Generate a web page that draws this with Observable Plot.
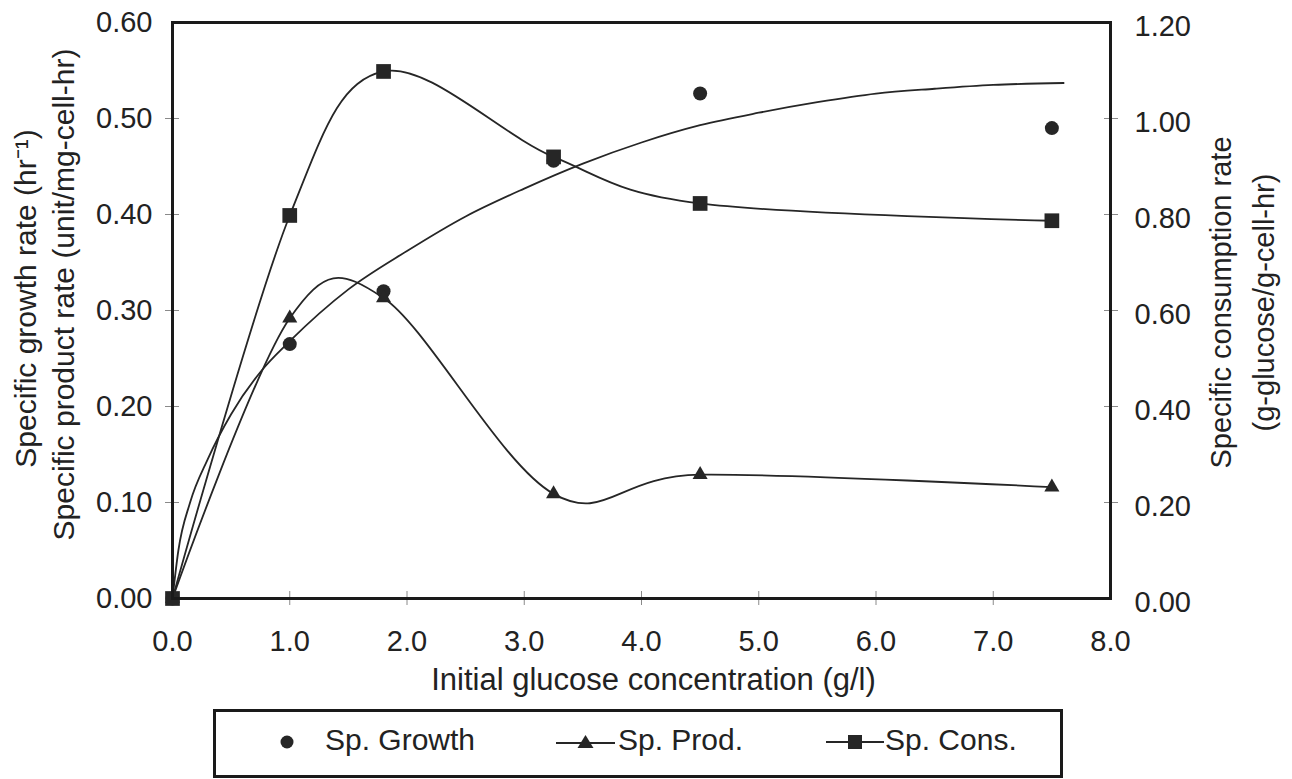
<!DOCTYPE html>
<html>
<head>
<meta charset="utf-8">
<script src="https://cdn.jsdelivr.net/npm/d3@7"></script>
<script src="https://cdn.jsdelivr.net/npm/@observablehq/plot@0.6"></script>
<style>
  html, body { margin: 0; padding: 0; background: #fff; }
  #wrap { position: relative; width: 1292px; height: 779px; overflow: hidden; font-family: "Liberation Sans", Arial, sans-serif; color: #222; }
  #chart { position: absolute; left: 0; top: 0; }
  #legend { position: absolute; left: 213px; top: 709px; width: 850px; height: 69px; border: 3px solid #1a1a1a; box-sizing: border-box; background: #fff; }
  .sw { position: absolute; top: 20px; display: block; }
  .lab { position: absolute; top: 10px; height: 36px; line-height: 36px; font-size: 30px; white-space: nowrap; }
</style>
</head>
<body>
<div id="wrap"><div id="chart"></div><div id="legend"></div></div>
<script>
// Measured data (initial glucose concentration, g/l)
const conc = [0, 1.0, 1.8, 3.25, 4.5, 7.5];
const spGrowth = [0, 0.265, 0.32, 0.456, 0.526, 0.49];      // hr^-1 (left axis)
const spProd = [0, 0.292, 0.313, 0.109, 0.129, 0.116];      // unit/mg-cell-hr (left axis)
const spCons = [0, 0.798, 1.098, 0.92, 0.823, 0.787];       // g-glucose/g-cell-hr (right axis)

// Fitted growth curve
const fitConc = [0, 0.05, 0.15, 0.3, 0.5, 0.75, 1.0, 1.5, 2.0, 2.5, 3.0, 3.5, 4.0, 4.5, 5.0, 5.5, 6.0, 6.5, 7.0, 7.6];
const fitGrowth = [0, 0.05, 0.1, 0.145, 0.192, 0.236, 0.268, 0.322, 0.362, 0.398, 0.427, 0.453, 0.475, 0.493, 0.506, 0.517, 0.526, 0.531, 0.535, 0.537];

// Axis ticks
const xTicks = [0, 1, 2, 3, 4, 5, 6, 7, 8];
const yLeftTicks = [0, 0.1, 0.2, 0.3, 0.4, 0.5, 0.6];
const yRightTicks = [0, 0.2, 0.4, 0.6, 0.8, 1.0, 1.2];

const legendLabels = ["Sp. Growth", "Sp. Prod.", "Sp. Cons."];

const ratio = 0.5; // right axis (0..1.2) mapped onto left axis (0..0.6)

const pts = conc.map((c, i) => ({c, g: spGrowth[i], p: spProd[i], s: spCons[i]}));
const fit = fitConc.map((c, i) => ({c, g: fitGrowth[i]}));

const ink = "#262626";
const tickCol = "#8a8a8a";
const fs = 29;

const chart = Plot.plot({
  width: 1292,
  height: 708,
  marginLeft: 172,
  marginRight: 182,
  marginTop: 22,
  marginBottom: 110,
  style: {fontFamily: "Liberation Sans, Arial, sans-serif", fontSize: fs + "px", color: "#222", background: "#fff"},
  x: {domain: [0, 8], label: null},
  y: {domain: [0, 0.6], label: null},
  marks: [
    // tick marks crossing the axes
    Plot.axisX({ticks: xTicks.slice(1, -1), tickSize: 14, dy: -7, tickFormat: () => "", stroke: tickCol, label: null}),
    Plot.axisY({ticks: yLeftTicks.slice(1, -1), anchor: "left", tickSize: 14, dx: 7, tickFormat: () => "", stroke: tickCol, label: null}),
    Plot.axisY({ticks: yRightTicks.slice(1, -1).map(v => v * ratio), anchor: "right", tickSize: 14, dx: -7, tickFormat: () => "", stroke: tickCol, label: null}),
    // tick labels
    Plot.axisX({ticks: xTicks, tickSize: 0, tickPadding: 32, tickFormat: d => d.toFixed(1), label: null}),
    Plot.axisY({ticks: yLeftTicks, anchor: "left", tickSize: 0, tickPadding: 20, tickFormat: d => d.toFixed(2), label: null}),
    Plot.axisY({ticks: yRightTicks.map(v => v * ratio), anchor: "right", tickSize: 0, tickPadding: 24, dy: 4, tickFormat: d => (d / ratio).toFixed(2), label: null}),
    // axis titles
    Plot.text(["Initial glucose concentration (g/l)"], {frameAnchor: "bottom", textAnchor: "middle", lineAnchor: "middle", dx: 12, dy: 82, fontSize: 31, fill: "#222"}),
    Plot.text(["Specific growth rate (hr\u207B\u00B9)"], {frameAnchor: "left", textAnchor: "middle", lineAnchor: "middle", dx: -146, dy: -12, rotate: -90, fontSize: 30, fill: "#222"}),
    Plot.text(["Specific product rate (unit/mg-cell-hr)"], {frameAnchor: "left", textAnchor: "middle", lineAnchor: "middle", dx: -108, dy: -16, rotate: -90, fontSize: 30, fill: "#222"}),
    Plot.text(["Specific consumption rate"], {frameAnchor: "right", textAnchor: "middle", lineAnchor: "middle", dx: 111, dy: -8, rotate: -90, fontSize: fs, fill: "#222"}),
    Plot.text(["(g-glucose/g-cell-hr)"], {frameAnchor: "right", textAnchor: "middle", lineAnchor: "middle", dx: 154, dy: -8, rotate: -90, fontSize: fs, fill: "#222"}),
    // curves
    Plot.line(fit, {x: "c", y: "g", curve: "monotone-x", stroke: ink, strokeWidth: 1.8}),
    Plot.line(pts, {x: "c", y: "p", curve: "cardinal", stroke: ink, strokeWidth: 1.8}),
    Plot.line(pts, {x: "c", y: d => d.s * ratio, curve: "cardinal", stroke: ink, strokeWidth: 1.8}),
    // markers
    Plot.dot(pts, {x: "c", y: "g", r: 7, fill: ink, symbol: "circle"}),
    Plot.dot(pts, {x: "c", y: "p", r: 5.6, fill: ink, symbol: "triangle"}),
    Plot.dot(pts, {x: "c", y: d => d.s * ratio, r: 8.3, fill: ink, symbol: "square"}),
    Plot.frame({stroke: "#1a1a1a", strokeWidth: 3})
  ]
});
document.getElementById("chart").appendChild(chart);

// Legend (positions relative to the legend box's content area)
const legend = document.getElementById("legend");
const swLeft = [59, 340, 610];
const labLeft = [109, 402, 669];
const swatches = [
  `<svg class="sw" width="24" height="20"><circle cx="12" cy="10" r="6.5" fill="${ink}"/></svg>`,
  `<svg class="sw" width="59" height="20"><line x1="0" y1="11" x2="59" y2="11" stroke="${ink}" stroke-width="1.8"/><path d="M29.5,3 L37.5,16 L21.5,16 Z" fill="${ink}"/></svg>`,
  `<svg class="sw" width="58" height="20"><line x1="0" y1="10" x2="58" y2="10" stroke="${ink}" stroke-width="1.8"/><rect x="22" y="3" width="14" height="14" fill="${ink}"/></svg>`
];
legendLabels.forEach((lab, i) => {
  const holder = document.createElement("div");
  holder.innerHTML = swatches[i];
  const sw = holder.firstChild;
  sw.style.left = swLeft[i] + "px";
  legend.appendChild(sw);
  const t = document.createElement("div");
  t.className = "lab";
  t.style.left = labLeft[i] + "px";
  t.textContent = lab;
  legend.appendChild(t);
});
</script>
</body>
</html>
